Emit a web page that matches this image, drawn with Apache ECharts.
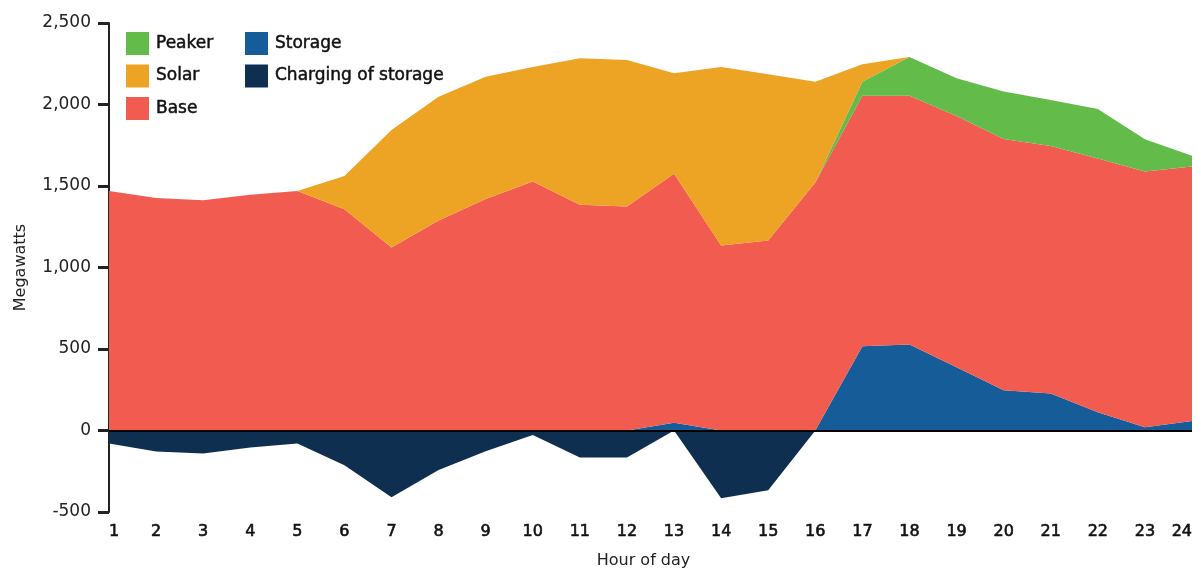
<!DOCTYPE html>
<html>
<head>
<meta charset="utf-8">
<script src="https://cdn.jsdelivr.net/npm/echarts@6/dist/echarts.min.js"></script>
<style>
  html, body { margin: 0; padding: 0; background: #fff; }
  #chart { width: 1201px; height: 570px; }
</style>
</head>
<body>
<div id="chart"></div>
<script>
// Hourly generation mix (MW)
const hours = ['1','2','3','4','5','6','7','8','9','10','11','12','13','14','15','16','17','18','19','20','21','22','23','24'];
const storage  = [0, 0, 0, 0, 0, 0, 0, 0, 0, 0, 0, 0, 47, 0, 0, 0, 517, 527, 388, 247, 227, 112, 20, 59];
const base     = [1469, 1426, 1413, 1446, 1470, 1358, 1123, 1289, 1420, 1528, 1385, 1374, 1528, 1135, 1166, 1521, 1536, 1526, 1542, 1542, 1519, 1557, 1569, 1560];
const peaker   = [0, 0, 0, 0, 0, 0, 0, 0, 0, 0, 0, 0, 0, 0, 0, 0, 87, 238, 231, 290, 282, 304, 198, 66];
const solar    = [0, 0, 0, 0, 0, 204, 720, 759, 751, 702, 898, 899, 616, 1095, 1019, 619, 107, 0, 0, 0, 0, 0, 0, 0];
const charging = [-80, -129, -141, -104, -80, -213, -410, -243, -127, -27, -166, -166, 0, -415, -366, 0, 0, 0, 0, 0, 0, 0, 0, 0];

const COLORS = {
  Peaker: '#63bc4a',
  Solar: '#eda324',
  Base: '#f15b50',
  Storage: '#155c99',
  Charging: '#0f2f50'
};

const FONT = '"DejaVu Sans", sans-serif';
const INK = '#222';

function areaSeries(name, data, color, stack) {
  return {
    name: name,
    type: 'line',
    stack: stack,
    data: data,
    color: color,
    showSymbol: false,
    symbol: 'none',
    smooth: false,
    lineStyle: { width: 0 },
    areaStyle: { color: color, opacity: 1 },
    emphasis: { disabled: true },
    silent: true
  };
}

const chart = echarts.init(document.getElementById('chart'), null, { renderer: 'canvas' });

const legendCommon = {
  orient: 'vertical',
  top: 32,
  padding: 0,
  itemWidth: 23,
  itemHeight: 23,
  itemGap: 9.5,
  icon: 'rect',
  selectedMode: false,
  textStyle: {
    fontFamily: FONT, fontSize: 17, color: '#111', padding: [0, 0, 0, 2],
    textBorderColor: '#111', textBorderWidth: 0.5
  }
};

const chargingSeries = areaSeries('Charging of storage', charging, COLORS.Charging, 'neg');
// zero baseline drawn over the areas
chargingSeries.markLine = {
  silent: true,
  symbol: 'none',
  label: { show: false },
  lineStyle: { color: '#000', width: 2, type: 'solid' },
  data: [{ yAxis: 0 }]
};

chart.setOption({
  animation: false,
  backgroundColor: '#fff',
  grid: { left: 109, right: 9, top: 23, bottom: 58, outerBoundsMode: 'none', containLabel: false },
  legend: [
    Object.assign({ left: 126, data: ['Peaker', 'Solar', 'Base'] }, legendCommon),
    Object.assign({ left: 245, data: ['Storage', 'Charging of storage'] }, legendCommon)
  ],
  xAxis: {
    type: 'category',
    data: hours,
    boundaryGap: false,
    name: 'Hour of day',
    nameLocation: 'middle',
    nameGap: 41,
    nameTextStyle: { fontFamily: FONT, fontSize: 16, color: INK, padding: [0, 14, 0, 0] },
    axisLine: { show: false },
    axisTick: { show: false },
    axisLabel: {
      fontFamily: FONT, fontSize: 16, color: '#111', margin: 12,
      textBorderColor: '#111', textBorderWidth: 0.6,
      interval: 0, alignMinLabel: 'left', alignMaxLabel: 'right'
    },
    splitLine: { show: false }
  },
  yAxis: {
    type: 'value',
    min: -500,
    max: 2500,
    interval: 500,
    name: 'Megawatts',
    nameLocation: 'middle',
    nameGap: 80,
    nameTextStyle: { fontFamily: FONT, fontSize: 16, color: INK },
    axisLine: { show: true, lineStyle: { color: INK, width: 2 } },
    axisTick: { show: true, length: 11, lineStyle: { color: INK, width: 3 } },
    axisLabel: {
      fontFamily: FONT, fontSize: 17, color: INK, margin: 18,
      formatter: v => v.toLocaleString('en-US')
    },
    splitLine: { show: false }
  },
  series: [
    areaSeries('Storage', storage, COLORS.Storage, 'pos'),
    areaSeries('Base', base, COLORS.Base, 'pos'),
    areaSeries('Peaker', peaker, COLORS.Peaker, 'pos'),
    areaSeries('Solar', solar, COLORS.Solar, 'pos'),
    chargingSeries
  ]
});
</script>
</body>
</html>
